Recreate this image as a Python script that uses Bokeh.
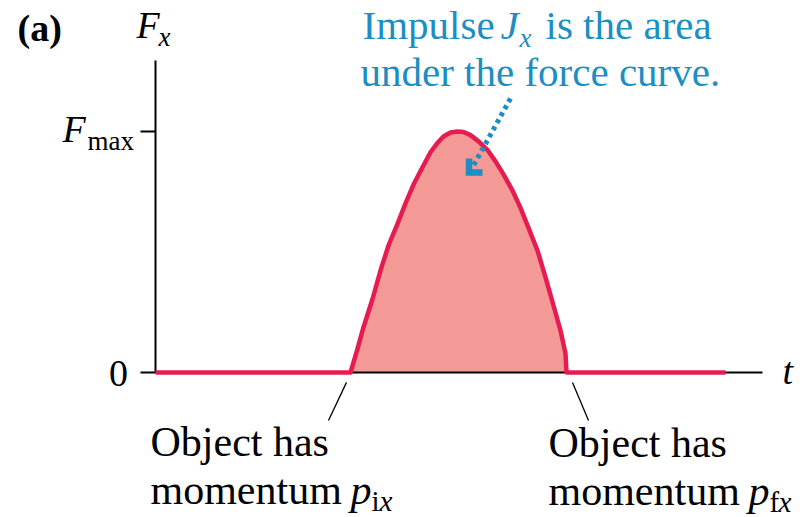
from bokeh.plotting import figure
from bokeh.models import Range1d
from bokeh.embed import file_html
from bokeh.resources import INLINE
from bokeh.core.properties import value

# Force pulse: time in arbitrary units, force as a fraction of F_max
t_before = [0.0, 1.95]
f_before = [0.0, 0.0]
t_pulse = [1.95, 2.02, 2.08, 2.17, 2.25, 2.33, 2.42, 2.50, 2.58, 2.67,
           2.75, 2.82, 2.88, 2.95, 3.02, 3.08, 3.15, 3.23, 3.32, 3.40,
           3.48, 3.57, 3.65, 3.73, 3.82, 3.90, 3.98, 4.05, 4.10, 4.11]
f_pulse = [0.0, 0.098, 0.188, 0.305, 0.423, 0.527, 0.617, 0.702, 0.780, 0.852,
           0.914, 0.953, 0.979, 0.996, 1.0, 0.998, 0.985, 0.959, 0.923, 0.876,
           0.822, 0.755, 0.683, 0.600, 0.506, 0.395, 0.278, 0.174, 0.078, 0.0]
t_after = [4.11, 5.70]
f_after = [0.0, 0.0]

# Vertical-axis ticks (0 and F_max)
tick_values = [0.0, 1.0]

W, H = 807, 517
X0, X1 = -1.55, 6.52
Y0, Y1 = -145 / 241, 372 / 241
SERIF = "Liberation Serif"
RED = "#e61c50"
FILL = "#f39a97"
BLUE = "#1b8ec4"

p = figure(width=W, height=H, output_backend="svg", toolbar_location=None,
           x_range=Range1d(X0, X1), y_range=Range1d(Y0, Y1),
           min_border=0, x_axis_location=None, y_axis_location=None)
p.grid.visible = False
p.outline_line_color = None
p.background_fill_color = "white"
p.border_fill_color = "white"

# area under the force curve
p.varea(x=t_pulse, y1=[0.0] * len(t_pulse), y2=f_pulse, fill_color=FILL)

# hand-drawn axes
p.segment(x0=0, y0=0, x1=0, y1=1.295, line_color="black", line_width=2)
p.segment(x0=[-0.15] * len(tick_values), y0=tick_values, x1=[0.0] * len(tick_values),
          y1=tick_values, line_color="black", line_width=2)
p.segment(x0=0, y0=0, x1=6.07, y1=0, line_color="black", line_width=2)

# force curve
p.line(x=t_before + t_pulse + t_after, y=f_before + f_pulse + f_after,
       line_color=RED, line_width=4.5, line_join="round")

# pointers to the start and end of the pulse
p.segment(x0=[1.91, 4.17], y0=[-0.041, -0.041], x1=[1.73, 4.33], y1=[-0.199, -0.199],
          line_color="black", line_width=1.3)

# dotted arrow into the shaded area
p.line(x=[3.55, 3.18], y=[1.137, 0.859], line_color=BLUE, line_width=5,
       line_dash="4 4", line_cap="butt")
p.line(x=[3.135, 3.135, 3.27], y=[0.888, 0.830, 0.830], line_color=BLUE,
       line_width=6.5, line_join="miter", line_cap="butt")

# the alphabetic baseline lands about a third of an em low, so lift each text by that
BASELINE_LIFT = 0.33


def place(text, left, baseline, size, color="black", style="normal", align="left"):
    """Put a text at a canvas position given in pixels from the top-left corner."""
    x = X0 + left * (X1 - X0) / W
    y = Y1 - (baseline - BASELINE_LIFT * size) * (Y1 - Y0) / H
    p.text(x=[x], y=[y], text=[text], text_font=value(SERIF),
           text_font_size=f"{size}px", text_font_style=style, text_color=color,
           text_align=align, text_baseline="alphabetic")


# panel tag and axis titles
place("(a)", 17, 40, 38, style="bold")
place("F", 136, 37, 38, style="italic")
place("x", 158, 45, 27, style="italic")
place("t", 782, 383, 38, style="italic")

# tick labels
place("0", 118, 386, 38, align="center")
place("F", 62, 141, 38, style="italic")
place("max", 87, 149, 27)

# annotation in blue
place("Impulse", 362, 38, 41, color=BLUE)
place("J", 500, 38, 41, color=BLUE, style="italic")
place("x", 519, 46, 27, color=BLUE, style="italic")
place("is the area", 545, 38, 41, color=BLUE)
place("under the force curve.", 360, 85, 41, color=BLUE)

# momentum captions
place("Object has", 150, 455, 42)
place("momentum", 150, 503, 42)
place("p", 350, 503, 42, style="italic")
place("i", 371, 510, 29)
place("x", 379, 510, 29, style="italic")
place("Object has", 548, 456, 42)
place("momentum", 548, 504, 42)
place("p", 748, 504, 42, style="italic")
place("f", 769, 511, 29)
place("x", 778, 511, 29, style="italic")

open("out.html", "w").write(file_html(p, INLINE))
